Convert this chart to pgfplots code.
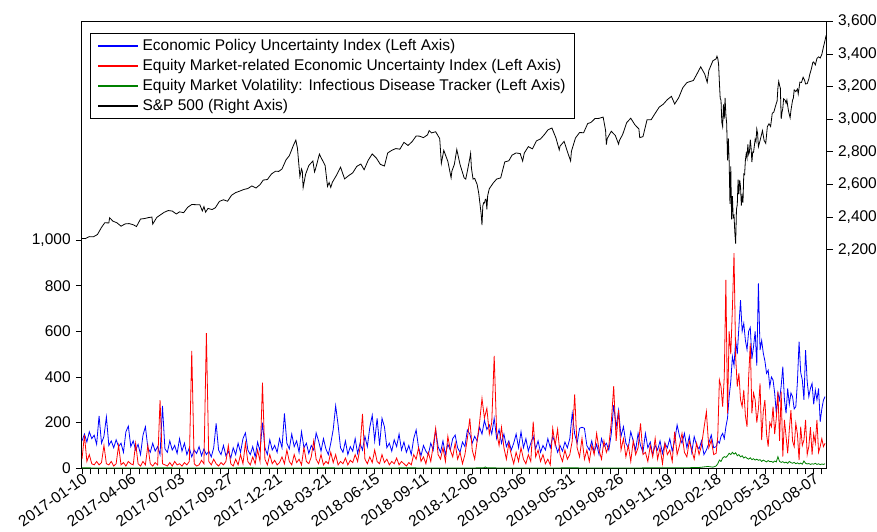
\documentclass[border=0pt]{standalone}
\usepackage{fontspec}
\setmainfont{Liberation Sans}
\usepackage{pgfplots}
\usepackage{pgfplotstable}
\pgfplotsset{compat=1.18}

\pgfplotstableread{
x epu emu
0 120 40
3 150 145
6 115 30
9 160 60
12 130 20
15 145 15
18 105 30
21 230 15
24 110 25
27 140 100
30 225 20
33 100 15
36 120 30
39 90 10
42 125 20
45 95 100
48 110 15
51 70 25
54 160 10
57 185 30
60 95 20
63 120 15
66 80 110
69 105 20
72 60 10
75 145 30
78 182 15
81 90 100
84 70 20
87 110 10
90 75 25
93 95 15
96 60 299
99 273 20
102 85 15
105 70 10
108 120 25
111 80 10
114 100 30
117 65 15
120 130 20
123 75 10
126 110 25
129 60 15
132 90 30
135 50 514
138 80 20
141 65 10
144 95 15
147 55 35
150 85 20
153 60 592
156 75 30
159 50 15
162 90 40
165 197 20
168 80 10
171 60 25
174 100 15
177 55 30
180 75 100
183 45 20
186 90 10
189 60 40
192 110 15
195 70 60
198 130 20
201 155 110
204 80 30
207 60 15
210 95 50
213 50 20
216 115 80
219 75 30
222 200 375
225 90 40
228 60 15
231 125 60
234 80 20
237 100 35
240 70 15
243 130 25
246 90 50
249 240 20
252 110 80
255 85 30
258 150 15
261 95 60
264 120 25
267 70 40
270 160 15
273 90 90
276 110 30
279 65 20
282 100 50
285 80 120
288 155 40
291 120 20
294 75 60
297 130 15
300 85 30
303 60 20
306 110 70
309 170 25
312 274 60
315 190 15
318 90 30
321 70 20
324 120 45
327 60 15
330 95 35
333 75 25
336 130 60
339 65 30
342 110 90
345 80 238
348 140 40
351 95 20
354 180 50
357 233 25
360 120 80
363 219 30
366 100 20
369 219 60
372 182 25
375 90 40
378 110 15
381 75 30
384 125 20
387 95 45
390 150 15
393 80 30
396 115 20
399 70 10
402 100 25
405 60 15
408 130 60
411 168 40
414 90 90
417 55 30
420 100 50
423 75 20
426 60 70
429 110 30
432 80 100
435 168 175
438 95 60
441 70 40
444 120 90
447 60 30
450 105 140
453 80 80
456 130 50
459 146 110
462 90 40
465 70 70
468 115 20
471 95 60
474 168 130
477 150 219
480 110 80
483 140 40
486 120 120
489 180 200
492 150 306
495 210 220
498 170 263
501 190 150
504 150 200
507 219 492
510 130 160
513 170 100
516 110 180
519 150 90
522 95 40
525 120 110
528 80 60
531 110 20
534 150 70
537 90 30
540 160 90
543 90 40
546 130 20
549 75 60
552 110 30
555 140 204
558 85 50
561 120 80
564 70 30
567 100 60
570 80 20
573 130 40
576 90 15
579 140 175
582 110 100
585 70 171
588 100 60
591 75 30
594 115 80
597 90 40
600 130 60
603 241 120
606 150 324
609 110 90
612 175 50
615 180 131
618 175 40
621 100 80
624 80 30
627 120 100
630 70 60
633 105 153
636 60 80
639 130 40
642 95 120
645 110 70
648 80 100
651 150 200
654 277 360
657 180 120
660 255 255
663 140 80
666 182 130
669 110 50
672 90 100
675 160 30
678 120 120
681 80 60
684 153 90
687 100 197
690 70 60
693 153 70
696 90 30
699 115 100
702 60 50
705 100 131
708 80 40
711 120 90
714 65 20
717 110 110
720 90 60
723 130 80
726 75 30
729 120 160
732 190 60
735 140 100
738 110 153
741 153 70
744 90 50
747 141 120
750 70 80
753 139 40
756 100 110
759 85 60
762 120 100
765 60 175
768 80 248
771 110 90
774 146 124
777 90 60
780 95 66
782 120 140
784 110 387
786 140 358
788 153 270
790 130 400
792 182 825
794 220 241
796 314 600
798 380 500
800 489 700
802 450 942
804 562 489
806 500 358
808 620 416
810 737 300
812 600 270
814 635 343
816 560 230
818 520 182
820 600 400
822 617 547
824 480 241
826 533 330
828 600 299
830 450 200
832 810 260
834 518 372
836 560 124
838 504 250
840 470 299
842 416 150
844 430 95
846 358 200
848 400 182
850 387 270
852 330 150
854 241 220
856 330 336
858 299 120
860 360 336
862 445 51
864 300 212
866 241 140
868 350 66
870 280 168
872 330 255
874 314 120
876 260 95
878 270 197
880 380 150
882 555 36
884 420 182
886 387 100
888 300 124
890 518 212
892 380 60
894 314 95
896 350 180
898 372 60
900 280 150
902 343 110
904 300 212
906 350 70
908 204 95
910 260 130
912 299 95
914 314 110
}\unc

\pgfplotstableread{
x y
0 2
50 1
100 2
150 1
200 2
250 1
300 2
350 1
400 2
450 1
494 2
496 6
498 2
550 1
600 2
650 1
700 2
740 2
760 4
770 8
776 5
780 10
782 20
784 36
786 30
788 45
790 51
792 48
794 55
796 66
798 60
800 70
802 62
804 68
806 55
808 60
810 50
812 55
814 45
816 50
818 44
820 40
822 46
824 38
826 42
828 36
830 40
832 35
834 38
836 30
838 36
840 32
842 28
844 34
846 29
848 30
850 26
852 32
854 28
856 51
858 30
860 26
862 29
864 24
866 27
868 22
870 30
872 25
874 22
876 26
878 20
880 24
882 19
884 23
886 18
888 32
890 22
892 19
894 21
896 17
898 20
900 18
902 22
904 17
906 20
908 16
910 19
912 17
914 20
}\idt

\pgfplotstableread{
x y
0 2269
4 2268
9 2280
14 2279
19 2293
24 2337
28 2365
33 2364
34 2396
38 2375
43 2365
48 2344
53 2358
58 2360
63 2353
67 2342
72 2388
77 2391
82 2397
86 2400
87 2357
92 2398
96 2412
101 2429
106 2440
111 2437
116 2419
120 2432
125 2427
130 2460
135 2477
140 2476
145 2475
148 2438
150 2464
152 2430
155 2453
160 2446
164 2457
169 2496
174 2506
179 2497
184 2534
189 2550
194 2559
199 2569
204 2575
209 2591
214 2578
219 2599
223 2627
228 2630
233 2664
238 2681
242 2680
246 2695
251 2751
255 2776
260 2839
263 2872
265 2822
268 2649
270 2695
271 2681
272 2581
275 2662
279 2716
284 2744
286 2677
287 2691
289 2728
292 2786
294 2765
299 2717
302 2588
304 2612
306 2582
308 2614
313 2656
318 2706
323 2634
328 2654
333 2671
338 2711
343 2725
347 2690
352 2748
357 2787
362 2762
367 2723
372 2713
376 2793
381 2809
386 2820
391 2816
396 2858
401 2839
406 2862
411 2897
415 2896
420 2887
425 2904
427 2930
430 2916
435 2923
440 2881
442 2729
445 2809
450 2741
454 2641
455 2682
458 2723
461 2814
465 2722
470 2641
472 2633
474 2682
477 2760
478 2790
479 2700
481 2633
483 2637
486 2600
488 2546
491 2417
492 2351
493 2468
494 2488
495 2486
496 2507
497 2510
498 2448
499 2532
501 2574
506 2610
510 2633
515 2640
520 2738
525 2745
529 2780
534 2793
539 2789
542 2743
544 2792
549 2832
554 2818
559 2867
564 2879
569 2907
573 2934
578 2946
583 2884
587 2812
588 2835
593 2864
597 2802
601 2744
602 2803
607 2885
612 2918
617 2917
622 2973
626 2980
631 3004
636 3005
641 3013
644 2932
645 2844
646 2881
651 2926
656 2900
660 2847
661 2869
665 2906
670 2979
675 3006
680 2966
685 2940
686 2887
690 2893
695 2996
700 2996
705 3036
710 3074
715 3092
720 3120
725 3140
729 3093
734 3132
739 3193
744 3224
748 3231
752 3237
757 3283
761 3321
766 3276
769 3226
771 3298
776 3358
780 3370
781 3386
782 3373
783 3338
784 3226
785 3128
786 3116
787 2979
788 2954
789 3090
790 3003
791 3130
792 3024
793 2972
794 2747
795 2882
796 2741
797 2481
798 2711
799 2386
800 2529
801 2398
802 2409
803 2305
804 2237
805 2447
806 2476
807 2630
808 2541
809 2627
810 2585
811 2471
812 2527
813 2489
814 2664
815 2660
816 2750
817 2790
818 2762
819 2846
820 2784
821 2800
822 2875
823 2823
824 2737
825 2799
826 2797
827 2837
828 2878
829 2863
830 2939
831 2912
832 2831
834 2868
837 2930
839 2870
841 2852
843 2954
845 2972
847 2955
849 3036
851 3044
853 3080
855 3112
856 3194
857 3232
858 3207
859 3190
860 3002
861 3041
862 3067
863 3125
865 3115
866 3098
867 3118
869 3050
871 3009
872 3053
874 3116
875 3130
876 3180
878 3169
880 3185
881 3155
883 3227
885 3225
887 3257
889 3236
890 3216
892 3218
894 3246
895 3271
897 3306
899 3349
900 3351
902 3333
904 3373
906 3382
908 3375
910 3397
912 3443
914 3484
915 3508
916 3500
}\spx

\definecolor{epublue}{RGB}{0,0,255}
\definecolor{emured}{RGB}{255,0,0}
\definecolor{idgreen}{RGB}{0,128,0}

\begin{document}
\fontsize{15.5}{18}\selectfont
\begin{tikzpicture}
\path[use as bounding box] (-82pt,-62.7pt) rectangle (795pt,468.3pt);
\begin{axis}[
  width=744.7pt, height=447pt, scale only axis,
  xmin=0, xmax=916, ymin=0, ymax=1958,
  axis line style={line width=1pt, black},
  tick align=outside, tick pos=left,
  major tick length=6pt, minor tick length=6pt,
  tick style={line width=0.8pt, black},
  xtick={0,60,...,900},
  minor xtick={0,10,...,910},
  xticklabels={2017-01-10,2017-04-06,2017-07-03,2017-09-27,2017-12-21,2018-03-21,2018-06-15,2018-09-11,2018-12-06,2019-03-06,2019-05-31,2019-08-26,2019-11-19,2020-02-18,2020-05-13,2020-08-07},
  x tick label style={rotate=35, anchor=north east, inner sep=0pt, yshift=1.5pt, xshift=1pt},
  ytick={0,200,...,1000},
  /pgf/number format/assume math mode=true,
  /pgf/number format/1000 sep={,},
  y tick label style={/pgf/number format/1000 sep={,}},
  legend cell align=left,
  legend style={at={(0.0107,0.974)}, anchor=north west, draw=black, line width=0.6pt,
    font=\fontsize{15.5}{18}\selectfont, row sep=1.5pt, inner xsep=7pt, inner ysep=3.3pt,
    nodes={inner sep=1.5pt, text height=12pt, text depth=3.5pt}},
  legend image code/.code={\draw[#1, line width=1.8pt] (0pt,0pt) -- (40pt,0pt);},
]
\addplot[color=epublue, line width=0.8pt] table[x=x, y=epu]{\unc};
\addlegendentry{\hspace{2pt}Economic Policy Uncertainty Index (Left Axis)}
\addplot[color=emured, line width=0.8pt] table[x=x, y=emu]{\unc};
\addlegendentry{\hspace{2pt}Equity Market-related Economic Uncertainty Index (Left Axis)}
\addplot[color=idgreen, line width=0.8pt] table[x=x, y=y]{\idt};
\addlegendentry{\hspace{2pt}Equity Market Volatility: Infectious Disease Tracker (Left Axis)}
\addlegendimage{color=black, line width=0.8pt}
\addlegendentry{\hspace{2pt}S\&P 500 (Right Axis)}
\end{axis}
\begin{axis}[
  width=744.7pt, height=447pt, scale only axis,
  xmin=0, xmax=916, ymin=860, ymax=3600,
  axis x line=none,
  axis y line*=right,
  axis line style={line width=1pt, black},
  tick align=outside,
  major tick length=6pt,
  tick style={line width=0.8pt, black},
  ytick={2200,2400,...,3600},
  /pgf/number format/assume math mode=true,
  /pgf/number format/1000 sep={,},
  y tick label style={/pgf/number format/1000 sep={,}},
]
\addplot[color=black, line width=0.8pt] table[x=x, y=y]{\spx};
\end{axis}
\end{tikzpicture}
\end{document}
